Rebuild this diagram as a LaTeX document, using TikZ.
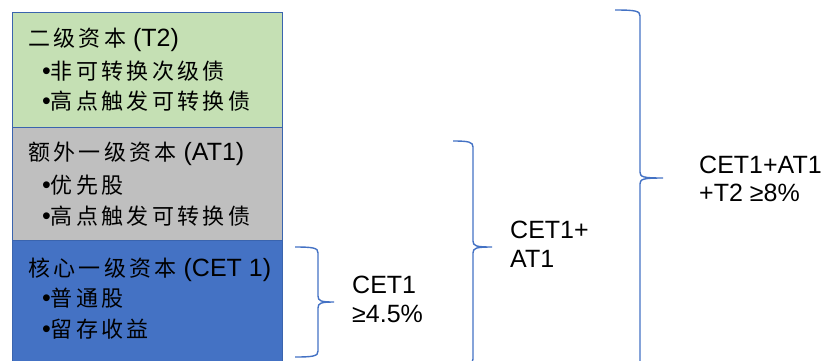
\documentclass[tikz,border=0pt]{standalone}
\usepackage{fontspec}
\setmainfont{Liberation Sans}
\newfontfamily\cjk[LetterSpace=15]{Noto Sans CJK SC}
\newcommand\zh[1]{{\cjk\fontsize{22}{25}\selectfont #1}}
\definecolor{tgreen}{HTML}{C5E0B4}
\definecolor{tgray}{HTML}{BFBFBF}
\definecolor{tblue}{HTML}{4472C4}
\definecolor{tedge}{HTML}{3A64AE}
\tikzset{
  layer/.style={draw=tedge, line width=0.9pt, minimum width=270pt, anchor=north west, inner sep=0pt, outer sep=0pt},
  txt/.style={anchor=base west, inner sep=0pt, font=\fontsize{25}{29}\selectfont},
  bracel/.style={draw=tblue, line width=1.4pt},
}
\newcommand\mybrace[6]{% x0 x1 x2 ytop ymid ybot
  \draw[bracel] (#1,#4) .. controls (#2-4,#4) and (#2,#4+1) .. (#2,#4+6)
    -- (#2,#5-6) .. controls (#2,#5-1) and (#2+3,#5) .. (#3,#5)
    .. controls (#2+3,#5) and (#2,#5+1) .. (#2,#5+6)
    -- (#2,#6-6) .. controls (#2,#6-1) and (#2-4,#6) .. (#1,#6);}
\begin{document}
\begin{tikzpicture}[x=1pt,y=-1pt]
\useasboundingbox (0,0) rectangle (824,360);
\clip (0,0) rectangle (824,360);
% stacked layers
\node[layer, fill=tgreen, minimum height=115pt] (t2box) at (12,12) {};
\node[layer, fill=tgray, minimum height=113pt] (at1box) at (12,127) {};
\node[layer, fill=tblue, minimum height=150pt] (cetbox) at (12,240) {};
% texts in layers
\node[txt] (t2a) at (28,46) {\zh{二级资本} (T2)};
\node[txt] (t2b) at (42,79) {•\zh{非可转换次级债}};
\node[txt] (t2c) at (42,109) {•\zh{高点触发可转换债}};
\node[txt] (at1a) at (28,160) {\zh{额外一级资本} (AT1)};
\node[txt] (at1b) at (42,193) {•\zh{优先股}};
\node[txt] (at1c) at (42,224) {•\zh{高点触发可转换债}};
\node[txt] (ceta) at (28,276) {\zh{核心一级资本} (CET 1)};
\node[txt] (cetb) at (42,306) {•\zh{普通股}};
\node[txt] (cetc) at (42,337) {•\zh{留存收益}};
% braces
\mybrace{295}{318}{334}{247}{302}{357}
\mybrace{453}{473}{492}{141}{247}{365}
\mybrace{615}{640}{663}{10}{178}{370}
% brace labels
\node[txt] (l1a) at (352,293) {CET1};
\node[txt] (l1b) at (352,322) {≥4.5\%};
\node[txt] (l2a) at (510,238) {CET1+};
\node[txt] (l2b) at (510,267) {AT1};
\node[txt] (l3a) at (699,173) {CET1+AT1};
\node[txt] (l3b) at (699,201) {+T2 ≥8\%};
\end{tikzpicture}
\end{document}
